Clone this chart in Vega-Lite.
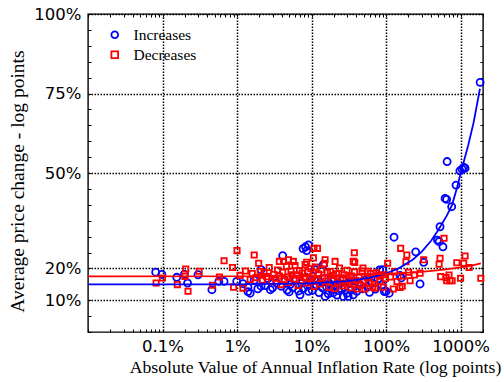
{
  "$schema": "https://vega.github.io/schema/vega-lite/v6.json",
  "width": 395,
  "height": 318,
  "autosize": {"type": "none"},
  "padding": {"left": 88, "top": 14, "right": 21, "bottom": 50},
  "background": "white",
  "config": {
    "view": {"stroke": "black", "strokeWidth": 1.4},
    "axis": {"domain": false, "tickColor": "black", "tickWidth": 1, "tickSize": -3, "labelColor": "black", "titleColor": "black"}
  },
  "datasets": {
    "pts": [
      {"s":"Increases","x":0.081,"y":18.8},{"s":"Increases","x":0.098,"y":18.1},{"s":"Increases","x":0.155,"y":17.2},{"s":"Increases","x":0.197,"y":18.2},{"s":"Increases","x":0.217,"y":15.4},{"s":"Increases","x":0.30,"y":18.0},{"s":"Increases","x":0.46,"y":13.3},{"s":"Increases","x":0.57,"y":15.9},{"s":"Increases","x":0.67,"y":15.9},{"s":"Increases","x":0.99,"y":15.9},
      {"s":"Increases","x":1.2,"y":15.2},{"s":"Increases","x":1.4,"y":12.7},{"s":"Increases","x":1.5,"y":12.2},{"s":"Increases","x":1.4,"y":14.1},{"s":"Increases","x":1.7,"y":16.3},{"s":"Increases","x":1.9,"y":13.6},{"s":"Increases","x":2.1,"y":19.6},{"s":"Increases","x":2.1,"y":14.4},{"s":"Increases","x":2.4,"y":14.6},{"s":"Increases","x":2.6,"y":16.8},
      {"s":"Increases","x":2.8,"y":13.3},{"s":"Increases","x":3.0,"y":13.9},{"s":"Increases","x":3.4,"y":15.4},{"s":"Increases","x":3.9,"y":14.4},{"s":"Increases","x":4.1,"y":24.0},{"s":"Increases","x":4.4,"y":16.1},{"s":"Increases","x":4.7,"y":13.2},{"s":"Increases","x":5.0,"y":12.6},{"s":"Increases","x":5.2,"y":15.0},{"s":"Increases","x":5.6,"y":14.0},
      {"s":"Increases","x":6.2,"y":16.5},{"s":"Increases","x":6.7,"y":12.9},{"s":"Increases","x":7.0,"y":11.7},{"s":"Increases","x":7.3,"y":15.3},{"s":"Increases","x":7.7,"y":26.2},{"s":"Increases","x":7.8,"y":13.7},{"s":"Increases","x":8.3,"y":26.8},{"s":"Increases","x":8.4,"y":17.2},{"s":"Increases","x":8.6,"y":25.6},{"s":"Increases","x":8.9,"y":14.5},
      {"s":"Increases","x":9.1,"y":27.4},{"s":"Increases","x":9.1,"y":12.8},{"s":"Increases","x":9.6,"y":15.8},{"s":"Increases","x":10.2,"y":13.1},{"s":"Increases","x":11.0,"y":16.2},{"s":"Increases","x":11.1,"y":19.6},{"s":"Increases","x":11.6,"y":14.8},{"s":"Increases","x":12.6,"y":12.4},{"s":"Increases","x":13.3,"y":15.5},{"s":"Increases","x":14.0,"y":13.9},
      {"s":"Increases","x":14.4,"y":21.2},{"s":"Increases","x":15.0,"y":16.9},{"s":"Increases","x":15.2,"y":11.2},{"s":"Increases","x":15.9,"y":14.2},{"s":"Increases","x":16.8,"y":12.0},{"s":"Increases","x":17.6,"y":15.1},{"s":"Increases","x":18.5,"y":13.4},{"s":"Increases","x":19.4,"y":12.3},{"s":"Increases","x":19.9,"y":16.0},{"s":"Increases","x":21.0,"y":14.6},
      {"s":"Increases","x":22,"y":11.6},{"s":"Increases","x":23,"y":13.0},{"s":"Increases","x":23.4,"y":15.3},{"s":"Increases","x":25.2,"y":13.7},{"s":"Increases","x":26.5,"y":16.4},{"s":"Increases","x":26.7,"y":11.2},{"s":"Increases","x":28.0,"y":14.0},{"s":"Increases","x":30.0,"y":12.2},{"s":"Increases","x":31,"y":11.2},{"s":"Increases","x":32.0,"y":15.6},
      {"s":"Increases","x":34.0,"y":13.2},{"s":"Increases","x":36.3,"y":11.7},{"s":"Increases","x":36.5,"y":16.1},{"s":"Increases","x":38.5,"y":14.4},{"s":"Increases","x":40.5,"y":12.8},{"s":"Increases","x":44,"y":15.0},{"s":"Increases","x":48,"y":13.6},{"s":"Increases","x":52,"y":16.3},{"s":"Increases","x":57,"y":14.1},{"s":"Increases","x":60,"y":12.5},
      {"s":"Increases","x":65,"y":15.4},{"s":"Increases","x":72,"y":13.5},{"s":"Increases","x":78,"y":16.7},{"s":"Increases","x":82,"y":19.5},{"s":"Increases","x":88,"y":14.8},{"s":"Increases","x":90,"y":19.6},{"s":"Increases","x":95,"y":12.7},{"s":"Increases","x":100,"y":12.8},{"s":"Increases","x":110,"y":12.2},{"s":"Increases","x":128,"y":29.8},
      {"s":"Increases","x":154,"y":17.8},{"s":"Increases","x":160,"y":17.0},{"s":"Increases","x":250,"y":25.2},{"s":"Increases","x":286,"y":15.1},{"s":"Increases","x":320,"y":21.9},{"s":"Increases","x":490,"y":28.9},{"s":"Increases","x":515,"y":28.4},{"s":"Increases","x":530,"y":33.1},{"s":"Increases","x":580,"y":26.8},{"s":"Increases","x":620,"y":42.0},
      {"s":"Increases","x":650,"y":41.7},{"s":"Increases","x":660,"y":53.6},{"s":"Increases","x":760,"y":39.4},{"s":"Increases","x":870,"y":46.2},{"s":"Increases","x":980,"y":50.7},{"s":"Increases","x":1050,"y":51.2},{"s":"Increases","x":1100,"y":51.8},{"s":"Increases","x":1150,"y":51.5},{"s":"Increases","x":1830,"y":78.5},
      {"s":"Decreases","x":0.082,"y":15.4},{"s":"Decreases","x":0.10,"y":17.0},{"s":"Decreases","x":0.158,"y":14.9},{"s":"Decreases","x":0.2,"y":17.5},{"s":"Decreases","x":0.205,"y":19.8},{"s":"Decreases","x":0.22,"y":12.8},{"s":"Decreases","x":0.31,"y":19.1},{"s":"Decreases","x":0.47,"y":14.7},{"s":"Decreases","x":0.58,"y":17.3},{"s":"Decreases","x":0.67,"y":22.4},
      {"s":"Decreases","x":0.87,"y":20.3},{"s":"Decreases","x":0.90,"y":14.1},{"s":"Decreases","x":1.0,"y":25.6},{"s":"Decreases","x":1.1,"y":17.8},{"s":"Decreases","x":1.2,"y":13.8},{"s":"Decreases","x":1.3,"y":19.2},{"s":"Decreases","x":1.5,"y":16.5},{"s":"Decreases","x":1.6,"y":18.4},{"s":"Decreases","x":1.7,"y":24.2},{"s":"Decreases","x":1.8,"y":17.1},
      {"s":"Decreases","x":1.95,"y":21.6},{"s":"Decreases","x":2.05,"y":19.0},{"s":"Decreases","x":2.2,"y":16.2},{"s":"Decreases","x":2.3,"y":18.6},{"s":"Decreases","x":2.5,"y":17.4},{"s":"Decreases","x":2.7,"y":20.3},{"s":"Decreases","x":2.9,"y":15.8},{"s":"Decreases","x":3.1,"y":18.1},{"s":"Decreases","x":3.3,"y":16.9},{"s":"Decreases","x":3.5,"y":19.5},
      {"s":"Decreases","x":3.7,"y":22.2},{"s":"Decreases","x":3.7,"y":17.6},{"s":"Decreases","x":3.9,"y":14.9},{"s":"Decreases","x":4.1,"y":18.8},{"s":"Decreases","x":4.2,"y":22.2},{"s":"Decreases","x":4.3,"y":16.4},{"s":"Decreases","x":4.6,"y":20.6},{"s":"Decreases","x":4.8,"y":17.3},{"s":"Decreases","x":4.9,"y":22.7},{"s":"Decreases","x":5.0,"y":15.6},
      {"s":"Decreases","x":5.3,"y":19.1},{"s":"Decreases","x":5.5,"y":18.0},{"s":"Decreases","x":5.7,"y":22.2},{"s":"Decreases","x":5.8,"y":16.7},{"s":"Decreases","x":6.0,"y":20.9},{"s":"Decreases","x":6.3,"y":17.9},{"s":"Decreases","x":6.6,"y":14.6},{"s":"Decreases","x":6.9,"y":19.3},{"s":"Decreases","x":7.2,"y":16.1},{"s":"Decreases","x":7.5,"y":18.5},
      {"s":"Decreases","x":7.9,"y":17.2},{"s":"Decreases","x":8.2,"y":21.2},{"s":"Decreases","x":8.6,"y":21.9},{"s":"Decreases","x":8.6,"y":15.4},{"s":"Decreases","x":9.0,"y":18.9},{"s":"Decreases","x":9.4,"y":16.8},{"s":"Decreases","x":9.8,"y":19.9},{"s":"Decreases","x":10.3,"y":17.5},{"s":"Decreases","x":10.6,"y":23.3},{"s":"Decreases","x":10.8,"y":26.3},
      {"s":"Decreases","x":10.8,"y":14.3},{"s":"Decreases","x":11.3,"y":20.4},{"s":"Decreases","x":11.8,"y":16.3},{"s":"Decreases","x":12,"y":26.3},{"s":"Decreases","x":12.4,"y":18.2},{"s":"Decreases","x":13.0,"y":15.1},{"s":"Decreases","x":13.6,"y":19.6},{"s":"Decreases","x":14.2,"y":17.0},{"s":"Decreases","x":14.9,"y":21.5},{"s":"Decreases","x":15.2,"y":22.7},
      {"s":"Decreases","x":15.6,"y":16.0},{"s":"Decreases","x":16.3,"y":18.7},{"s":"Decreases","x":17.1,"y":14.0},{"s":"Decreases","x":17.9,"y":19.0},{"s":"Decreases","x":18.8,"y":16.6},{"s":"Decreases","x":19.7,"y":17.8},{"s":"Decreases","x":20.6,"y":13.6},{"s":"Decreases","x":20.7,"y":22.2},{"s":"Decreases","x":21.6,"y":18.3},{"s":"Decreases","x":22.6,"y":15.7},
      {"s":"Decreases","x":23.7,"y":20.1},{"s":"Decreases","x":24.8,"y":16.9},{"s":"Decreases","x":26.0,"y":14.5},{"s":"Decreases","x":27.2,"y":18.0},{"s":"Decreases","x":28.5,"y":15.2},{"s":"Decreases","x":29.9,"y":19.4},{"s":"Decreases","x":31.3,"y":16.4},{"s":"Decreases","x":32.8,"y":13.9},{"s":"Decreases","x":34.3,"y":17.6},{"s":"Decreases","x":36.0,"y":15.0},
      {"s":"Decreases","x":36.3,"y":22.2},{"s":"Decreases","x":37.5,"y":24.9},{"s":"Decreases","x":37.7,"y":18.9},{"s":"Decreases","x":38,"y":21.9},{"s":"Decreases","x":39.5,"y":16.2},{"s":"Decreases","x":41.4,"y":13.5},{"s":"Decreases","x":43.4,"y":17.3},{"s":"Decreases","x":45.5,"y":14.7},{"s":"Decreases","x":47.6,"y":19.2},{"s":"Decreases","x":49,"y":20.1},
      {"s":"Decreases","x":50,"y":16.0},{"s":"Decreases","x":52,"y":13.5},{"s":"Decreases","x":56,"y":17.1},{"s":"Decreases","x":57,"y":19.1},{"s":"Decreases","x":59,"y":15.3},{"s":"Decreases","x":62,"y":18.4},{"s":"Decreases","x":66,"y":14.2},{"s":"Decreases","x":70,"y":16.6},{"s":"Decreases","x":71,"y":13.8},{"s":"Decreases","x":74,"y":18.6},
      {"s":"Decreases","x":78,"y":17.9},{"s":"Decreases","x":83,"y":15.9},{"s":"Decreases","x":92,"y":14.1},{"s":"Decreases","x":95,"y":18.0},{"s":"Decreases","x":98,"y":16.8},{"s":"Decreases","x":105,"y":21.6},{"s":"Decreases","x":115,"y":17.3},{"s":"Decreases","x":125,"y":13.5},{"s":"Decreases","x":130,"y":19.0},{"s":"Decreases","x":140,"y":15.9},
      {"s":"Decreases","x":154,"y":14.0},{"s":"Decreases","x":157,"y":26.3},{"s":"Decreases","x":165,"y":14.4},{"s":"Decreases","x":170,"y":17.6},{"s":"Decreases","x":185,"y":22.1},{"s":"Decreases","x":190,"y":24.2},{"s":"Decreases","x":200,"y":18.8},{"s":"Decreases","x":210,"y":16.1},{"s":"Decreases","x":240,"y":17.9},{"s":"Decreases","x":286,"y":18.5},
      {"s":"Decreases","x":320,"y":22.7},{"s":"Decreases","x":515,"y":21.3},{"s":"Decreases","x":530,"y":23.2},{"s":"Decreases","x":540,"y":17.4},{"s":"Decreases","x":600,"y":29.5},{"s":"Decreases","x":640,"y":17.1},{"s":"Decreases","x":650,"y":16.1},{"s":"Decreases","x":700,"y":17.9},{"s":"Decreases","x":720,"y":16.1},{"s":"Decreases","x":770,"y":16.1},
      {"s":"Decreases","x":890,"y":21.8},{"s":"Decreases","x":1000,"y":16.9},{"s":"Decreases","x":1100,"y":21.6},{"s":"Decreases","x":1150,"y":23.9},{"s":"Decreases","x":1300,"y":20.3},{"s":"Decreases","x":1870,"y":16.9}
    ],
    "fits": [
      {"s":"Increases","x":0.01,"y":15.0},{"s":"Increases","x":1,"y":15.0},{"s":"Increases","x":10,"y":15.3},{"s":"Increases","x":30,"y":16.0},{"s":"Increases","x":60,"y":17.0},{"s":"Increases","x":100,"y":18.4},{"s":"Increases","x":150,"y":20.1},{"s":"Increases","x":230,"y":22.8},{"s":"Increases","x":300,"y":25.2},{"s":"Increases","x":400,"y":28.6},{"s":"Increases","x":500,"y":32.0},{"s":"Increases","x":650,"y":36.5},{"s":"Increases","x":770,"y":40.0},{"s":"Increases","x":900,"y":45.5},{"s":"Increases","x":1016,"y":50.5},{"s":"Increases","x":1260,"y":58.5},{"s":"Increases","x":1500,"y":66.0},{"s":"Increases","x":1820,"y":76.5},
      {"s":"Decreases","x":0.01,"y":17.5},{"s":"Decreases","x":10,"y":17.6},{"s":"Decreases","x":100,"y":18.3},{"s":"Decreases","x":300,"y":18.9},{"s":"Decreases","x":600,"y":19.6},{"s":"Decreases","x":1000,"y":20.3},{"s":"Decreases","x":1400,"y":20.9},{"s":"Decreases","x":1870,"y":21.6}
    ]
  },
  "layer": [
    {
      "data": {"name": "pts"},
      "transform": [{"filter": "datum.s === 'Increases'"}],
      "mark": {"type": "point", "filled": false, "strokeWidth": 1.8, "size": 50, "opacity": 1},
      "encoding": {
        "x": {"field": "x", "type": "quantitative", "scale": {"type": "log", "domain": [0.01, 2000], "nice": false},
          "axis": {"orient": "bottom",
            "values": [0.01,0.02,0.03,0.04,0.05,0.06,0.07,0.08,0.09,0.1,0.2,0.3,0.4,0.5,0.6,0.7,0.8,0.9,1,2,3,4,5,6,7,8,9,10,20,30,40,50,60,70,80,90,100,200,300,400,500,600,700,800,900,1000,2000],
            "grid": true, "gridColor": "black", "gridDash": [1.5, 1.5], "gridWidth": 1.5,
            "gridOpacity": {"condition": {"test": "indexof([0.1,1,10,100,1000], datum.value) >= 0", "value": 1}, "value": 0},
            "labelExpr": "indexof([0.1,1,10,100,1000], datum.value) >= 0 ? datum.value + '%' : ''",
            "labelFont": "DejaVu Sans", "labelFontSize": 16.5, "labelPadding": 9, "labelOverlap": false, "labelFlush": false,
            "title": "Absolute Value of Annual Inflation Rate (log points)", "titleFont": "Liberation Serif", "titleFontSize": 17.7, "titleFontWeight": "normal",
            "titleX": 227, "titleY": 35, "titleAlign": "center", "titleBaseline": "middle", "titleAnchor": null}},
        "y": {"field": "y", "type": "quantitative", "scale": {"domain": [0, 100], "nice": false},
          "axis": {"orient": "left",
            "values": [0,5,10,15,20,25,30,35,40,45,50,55,60,65,70,75,80,85,90,95,100],
            "grid": true, "gridColor": "black", "gridDash": [1.5, 1.5], "gridWidth": 1.5,
            "gridOpacity": {"condition": {"test": "indexof([10,20,50,75,100], datum.value) >= 0", "value": 1}, "value": 0},
            "labelExpr": "indexof([10,20,50,75,100], datum.value) >= 0 ? datum.value + '%' : ''",
            "labelFont": "DejaVu Sans", "labelFontSize": 16.5, "labelPadding": 10, "labelOverlap": false, "labelFlush": false,
            "title": "Average price change - log points", "titleFont": "Liberation Serif", "titleFontSize": 19.5, "titleFontWeight": "normal",
            "titleX": -71, "titleY": 167, "titleAngle": -90, "titleAlign": "center", "titleBaseline": "middle", "titleAnchor": null}},
        "color": {"field": "s", "type": "nominal", "scale": {"domain": ["Increases", "Decreases"], "range": ["#0000ff", "#ff0000"]},
          "legend": {"orient": "none", "legendX": 19, "legendY": 13, "title": null, "padding": 0, "labelFont": "Liberation Serif", "labelFontSize": 15.5, "labelColor": "black", "symbolSize": 45, "symbolStrokeWidth": 1.8, "labelOffset": 11, "rowPadding": 3}},
        "shape": {"field": "s", "type": "nominal", "scale": {"domain": ["Increases", "Decreases"], "range": ["circle", "square"]},
          "legend": {"orient": "none", "legendX": 19, "legendY": 13, "title": null, "padding": 0, "labelFont": "Liberation Serif", "labelFontSize": 15.5, "labelColor": "black", "symbolSize": 45, "symbolStrokeWidth": 1.8, "labelOffset": 11, "rowPadding": 3}}
      }
    },
    {
      "data": {"name": "pts"},
      "transform": [{"filter": "datum.s === 'Decreases'"}],
      "mark": {"type": "point", "filled": false, "strokeWidth": 1.8, "size": 28, "opacity": 1},
      "encoding": {
        "x": {"field": "x", "type": "quantitative", "axis": null},
        "y": {"field": "y", "type": "quantitative", "axis": null},
        "color": {"field": "s", "type": "nominal"},
        "shape": {"field": "s", "type": "nominal"}
      }
    },
    {
      "data": {"name": "fits"},
      "mark": {"type": "line", "strokeWidth": 1.8},
      "encoding": {
        "x": {"field": "x", "type": "quantitative",
          "axis": {"orient": "top", "values": [0.01,0.02,0.03,0.04,0.05,0.06,0.07,0.08,0.09,0.1,0.2,0.3,0.4,0.5,0.6,0.7,0.8,0.9,1,2,3,4,5,6,7,8,9,10,20,30,40,50,60,70,80,90,100,200,300,400,500,600,700,800,900,1000,2000], "labels": false, "grid": false, "title": null}},
        "y": {"field": "y", "type": "quantitative",
          "axis": {"orient": "right", "values": [0,5,10,15,20,25,30,35,40,45,50,55,60,65,70,75,80,85,90,95,100], "labels": false, "grid": false, "title": null}},
        "stroke": {"field": "s", "type": "nominal", "scale": {"domain": ["Increases", "Decreases"], "range": ["#0000ff", "#ff0000"]}, "legend": null}
      }
    }
  ],
  "resolve": {"axis": {"x": "independent", "y": "independent"}}
}
